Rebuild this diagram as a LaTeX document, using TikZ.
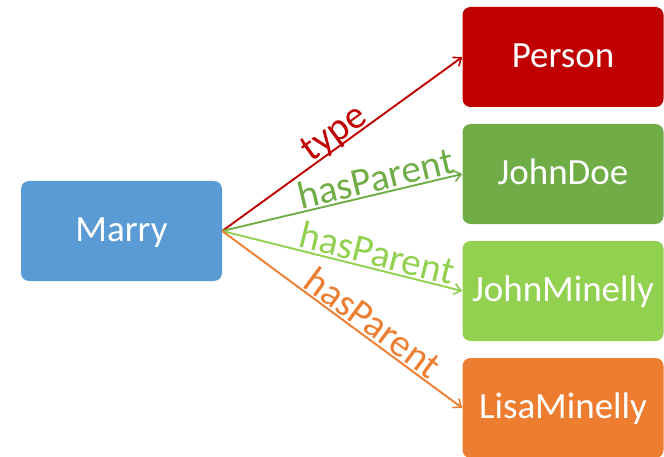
\documentclass[tikz,border=0pt]{standalone}
\usepackage{fontspec}
\setmainfont{Carlito}
\usetikzlibrary{arrows.meta}
\definecolor{cblue}{HTML}{5B9BD5}
\definecolor{cred}{HTML}{C00000}
\definecolor{cgreen}{HTML}{70AD47}
\definecolor{clight}{HTML}{92D050}
\definecolor{corange}{HTML}{ED7D31}
\begin{document}
\begin{tikzpicture}[x=1pt,y=1pt,
  entity/.style={rounded corners=8pt, minimum width=201pt, minimum height=100pt,
    inner sep=0pt, text=white, font=\fontsize{37}{40}\selectfont,
    text height=25pt, text depth=4pt},
  rel/.style={line width=1.9pt, -{Straight Barb[length=7pt,width=11pt,line width=1.6pt]}},
  lbl/.style={sloped, above, inner sep=2pt, text depth=0pt,
    font=\fontsize{39}{42}\selectfont}
]
\useasboundingbox (0,0) rectangle (664,456);

% subject
\node[entity, fill=cblue] (marry) at (121.5,225) {Marry};

% objects
\node[entity, fill=cred]    (person)  at (563,399) {Person};
\node[entity, fill=cgreen]  (jdoe)    at (563,282) {JohnDoe};
\node[entity, fill=clight]  (jmin)    at (563,165) {JohnMinelly};
\node[entity, fill=corange] (lmin)    at (563,48)  {LisaMinelly};

% predicates
\draw[rel, cred]    (marry.east) -- node[lbl, pos=0.5,  text=cred]    {type}      (person.west);
\draw[rel, cgreen]  (marry.east) -- node[lbl, pos=0.655, text=cgreen]  {hasParent} (jdoe.west);
\draw[rel, clight]  (marry.east) -- node[lbl, pos=0.63, text=clight]  {hasParent} (jmin.west);
\draw[rel, corange] (marry.east) -- node[lbl, pos=0.59, text=corange] {hasParent} (lmin.west);
\end{tikzpicture}
\end{document}
